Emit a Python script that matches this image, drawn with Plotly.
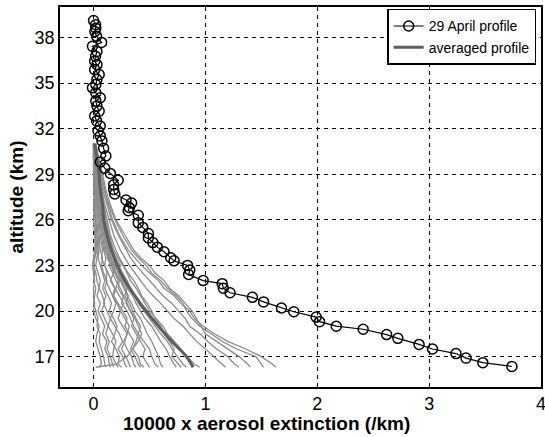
import plotly.graph_objects as go

# 29 April profile (altitude km, 10000 x extinction /km)
apr29_alt = [39.11, 38.83, 38.61, 38.39, 38.07, 37.67, 37.41, 37.08, 36.76, 36.43,
             36.21, 35.88, 35.56, 35.23, 34.90, 34.68, 34.35, 34.03, 33.81, 33.48,
             33.15, 32.83, 32.50, 32.17, 31.84, 31.52, 31.19, 30.7, 30.2, 29.8,
             29.4, 29.05, 28.6, 28.3, 28.0, 27.7, 27.3, 27.1, 26.8, 26.6,
             26.3, 25.8, 25.5, 25.1, 24.8, 24.5, 24.2, 23.9, 23.5, 23.3,
             23.0, 22.7, 22.4, 22.0, 21.8, 21.5, 21.2, 20.9, 20.6, 20.2,
             19.95, 19.6, 19.3, 19.0, 18.8, 18.45, 18.2, 17.8, 17.5, 17.2,
             16.9, 16.6, 16.35]
apr29_ext = [0.0, 0.018, 0.02, 0.012, 0.027, 0.072, -0.01, 0.03, 0.018, 0.01,
             0.03, 0.01, 0.05, 0.03, 0.02, -0.01, 0.02, 0.06, 0.02, 0.03,
             0.05, 0.01, 0.027, 0.06, 0.04, 0.06, 0.075, 0.09, 0.11, 0.06,
             0.10, 0.15, 0.22, 0.18, 0.18, 0.19, 0.29, 0.34, 0.32, 0.31,
             0.40, 0.40, 0.44, 0.49, 0.49, 0.53, 0.57, 0.63, 0.69, 0.72,
             0.84, 0.86, 0.85, 0.98, 1.15, 1.16, 1.22, 1.42, 1.52, 1.68,
             1.79, 1.99, 2.02, 2.17, 2.41, 2.62, 2.72, 2.91, 3.03, 3.24,
             3.33, 3.48, 3.74]

# averaged profile
avg_alt = [31, 30, 29, 28, 27, 26, 25, 24, 23, 22, 21, 20, 19, 18, 17, 16.3]
avg_ext = [0.01, 0.03, 0.05, 0.06, 0.08, 0.09, 0.12, 0.16, 0.21, 0.28, 0.37, 0.47,
           0.58, 0.70, 0.83, 0.89]

# individual profiles on a common altitude grid
grid_alt = [31, 30, 29, 28, 27, 26, 25, 24, 23.5, 23, 22.5, 22, 21.5, 21, 20.5, 20,
            19.5, 19, 18.5, 18, 17.5, 17, 16.5, 16.3]
profiles = [
    [0.02, 0.04, 0.07, 0.10, 0.13, 0.17, 0.23, 0.31, 0.37, 0.43, 0.50, 0.58, 0.63, 0.72, 0.78, 0.86, 0.90, 0.98, 1.08, 1.20, 1.36, 1.50, 1.60, 1.63],
    [0.01, 0.03, 0.06, 0.09, 0.14, 0.19, 0.26, 0.34, 0.40, 0.47, 0.52, 0.60, 0.66, 0.74, 0.80, 0.83, 0.88, 0.95, 1.05, 1.15, 1.28, 1.45, 1.50, 1.52],
    [0.02, 0.05, 0.08, 0.11, 0.15, 0.20, 0.28, 0.36, 0.42, 0.50, 0.55, 0.63, 0.68, 0.76, 0.82, 0.88, 0.92, 0.96, 1.00, 1.10, 1.20, 1.30, 1.38, 1.40],
    [0.01, 0.03, 0.05, 0.08, 0.12, 0.16, 0.22, 0.29, 0.33, 0.38, 0.44, 0.50, 0.56, 0.62, 0.70, 0.76, 0.82, 0.86, 0.95, 1.02, 1.10, 1.20, 1.26, 1.30],
    [0.00, 0.02, 0.04, 0.07, 0.10, 0.14, 0.18, 0.24, 0.28, 0.32, 0.37, 0.42, 0.47, 0.53, 0.60, 0.66, 0.72, 0.80, 0.86, 0.92, 1.00, 1.08, 1.15, 1.18],
    [0.01, 0.02, 0.04, 0.06, 0.09, 0.12, 0.15, 0.20, 0.23, 0.27, 0.30, 0.33, 0.38, 0.42, 0.46, 0.50, 0.56, 0.62, 0.66, 0.72, 0.78, 0.84, 0.90, 0.95],
    [0.00, 0.02, 0.03, 0.05, 0.08, 0.10, 0.13, 0.17, 0.20, 0.22, 0.26, 0.30, 0.33, 0.37, 0.40, 0.45, 0.50, 0.55, 0.60, 0.66, 0.70, 0.75, 0.80, 0.83],
    [0.01, 0.02, 0.05, 0.07, 0.09, 0.11, 0.14, 0.18, 0.22, 0.26, 0.31, 0.36, 0.40, 0.43, 0.48, 0.52, 0.55, 0.60, 0.63, 0.68, 0.72, 0.70, 0.76, 0.78],
    [0.00, 0.01, 0.03, 0.05, 0.07, 0.09, 0.12, 0.15, 0.18, 0.21, 0.24, 0.27, 0.30, 0.35, 0.38, 0.42, 0.46, 0.52, 0.56, 0.60, 0.65, 0.68, 0.72, 0.74],
    [0.00, 0.01, 0.02, 0.04, 0.06, 0.08, 0.10, 0.13, 0.15, 0.18, 0.20, 0.24, 0.27, 0.30, 0.34, 0.37, 0.42, 0.45, 0.48, 0.52, 0.55, 0.58, 0.60, 0.62],
    [0.01, 0.02, 0.03, 0.05, 0.07, 0.10, 0.13, 0.16, 0.20, 0.24, 0.22, 0.26, 0.30, 0.28, 0.32, 0.35, 0.38, 0.42, 0.40, 0.45, 0.50, 0.52, 0.55, 0.58],
    [0.00, 0.01, 0.02, 0.03, 0.05, 0.07, 0.09, 0.11, 0.14, 0.17, 0.20, 0.23, 0.22, 0.26, 0.30, 0.33, 0.36, 0.34, 0.38, 0.42, 0.46, 0.44, 0.48, 0.50],
    [0.00, 0.01, 0.03, 0.04, 0.06, 0.08, 0.10, 0.12, 0.15, 0.14, 0.17, 0.20, 0.24, 0.27, 0.25, 0.30, 0.33, 0.36, 0.40, 0.38, 0.35, 0.40, 0.42, 0.45],
    [0.01, 0.02, 0.04, 0.06, 0.08, 0.10, 0.12, 0.14, 0.12, 0.16, 0.19, 0.22, 0.20, 0.18, 0.22, 0.26, 0.30, 0.28, 0.32, 0.36, 0.33, 0.37, 0.40, 0.42],
    [0.00, 0.01, 0.02, 0.03, 0.05, 0.06, 0.08, 0.10, 0.13, 0.16, 0.18, 0.15, 0.19, 0.23, 0.27, 0.24, 0.28, 0.32, 0.30, 0.27, 0.30, 0.34, 0.36, 0.38],
    [0.00, 0.00, 0.01, 0.03, 0.04, 0.06, 0.07, 0.09, 0.11, 0.10, 0.13, 0.16, 0.19, 0.17, 0.21, 0.24, 0.22, 0.26, 0.30, 0.28, 0.25, 0.29, 0.32, 0.33],
    [0.00, 0.01, 0.02, 0.02, 0.03, 0.05, 0.06, 0.08, 0.07, 0.10, 0.12, 0.11, 0.14, 0.17, 0.20, 0.18, 0.15, 0.19, 0.23, 0.26, 0.22, 0.26, 0.28, 0.30],
    [0.00, 0.00, 0.01, 0.02, 0.03, 0.04, 0.05, 0.06, 0.08, 0.07, 0.09, 0.12, 0.10, 0.13, 0.16, 0.14, 0.18, 0.21, 0.19, 0.16, 0.20, 0.23, 0.22, 0.25],
    [0.00, 0.01, 0.01, 0.02, 0.03, 0.03, 0.04, 0.05, 0.04, 0.06, 0.08, 0.10, 0.08, 0.11, 0.09, 0.12, 0.15, 0.13, 0.17, 0.20, 0.18, 0.17, 0.20, 0.22],
    [0.00, 0.00, 0.01, 0.01, 0.02, 0.02, 0.03, 0.04, 0.03, 0.02, 0.04, 0.06, 0.05, 0.08, 0.10, 0.07, 0.10, 0.13, 0.11, 0.14, 0.12, 0.15, 0.17, 0.18],
    [0.00, 0.00, 0.00, 0.01, 0.01, 0.02, 0.02, 0.03, 0.01, 0.00, 0.02, 0.03, 0.05, 0.03, 0.06, 0.04, 0.07, 0.10, 0.08, 0.12, 0.10, 0.13, 0.14, 0.15],
    [0.00, 0.00, 0.01, 0.00, 0.01, 0.00, 0.01, 0.02, 0.01, 0.00, 0.01, 0.00, 0.02, 0.01, 0.00, 0.02, 0.04, 0.03, 0.06, 0.05, 0.07, 0.09, 0.10, 0.11],
    [0.00, 0.00, 0.00, 0.01, 0.00, 0.01, 0.02, 0.01, 0.00, -0.01, 0.00, 0.01, 0.00, 0.00, 0.01, 0.00, 0.02, 0.05, 0.03, 0.02, 0.04, 0.06, 0.07, 0.05],
    [0.01, 0.02, 0.03, 0.05, 0.07, 0.09, 0.11, 0.14, 0.16, 0.19, 0.22, 0.25, 0.28, 0.31, 0.29, 0.33, 0.37, 0.40, 0.43, 0.40, 0.35, 0.30, 0.20, 0.02],
]

x_ticks = [0, 1, 2, 3, 4]
y_ticks = [17, 20, 23, 26, 29, 32, 35, 38]

FONT = "Liberation Sans, Arial, sans-serif"

fig = go.Figure()
for p in profiles:
    fig.add_trace(go.Scatter(x=p, y=grid_alt, mode="lines",
                             line=dict(color="#8c8c8c", width=1.3),
                             showlegend=False, hoverinfo="skip"))

fig.add_trace(go.Scatter(x=avg_ext, y=avg_alt, mode="lines", name="averaged profile",
                         line=dict(color="#5e5e5e", width=3, shape="spline"),
                         legendrank=2))
fig.add_trace(go.Scatter(x=apr29_ext, y=apr29_alt, mode="lines+markers",
                         name="29 April profile",
                         line=dict(color="black", width=1.2),
                         marker=dict(symbol="circle-open", size=10, color="black",
                                     line=dict(width=1.5, color="black")),
                         legendrank=1))

axis_common = dict(showline=True, linecolor="black", linewidth=1.5, mirror=True,
                   showgrid=True, gridcolor="black", gridwidth=1, griddash="4px,4px",
                   zeroline=False, ticks="inside", ticklen=4, tickcolor="black",
                   automargin=False, ticklabeloverflow="allow",
                   tickfont=dict(family=FONT, size=18, color="black"))

fig.update_xaxes(range=[-0.3, 4], tickvals=x_ticks, **axis_common)
fig.update_yaxes(range=[15, 40], tickvals=y_ticks,
                 title=dict(text="<b>altitude (km)</b>",
                            font=dict(family=FONT, size=19, color="black"), standoff=6),
                 **axis_common)

fig.add_annotation(text="<b>10000 x aerosol extinction (/km)</b>",
                   xref="paper", yref="paper", x=0.43, y=-0.095,
                   xanchor="center", yanchor="middle", showarrow=False,
                   font=dict(family=FONT, size=19, color="black"))

fig.update_layout(
    width=545, height=437,
    margin=dict(l=60, r=4, t=7, b=50),
    paper_bgcolor="white", plot_bgcolor="white",
    font=dict(family=FONT, size=14, color="black"),
    legend=dict(x=0.99, y=0.995, xanchor="right", yanchor="top",
                bgcolor="white", bordercolor="black", borderwidth=1.5,
                font=dict(family=FONT, size=14, color="black"),
                tracegroupgap=0, itemwidth=30),
)

fig.write_html("out.html", config={"displayModeBar": False},
               post_script="document.body.style.margin='0';document.body.style.overflow='hidden';")
